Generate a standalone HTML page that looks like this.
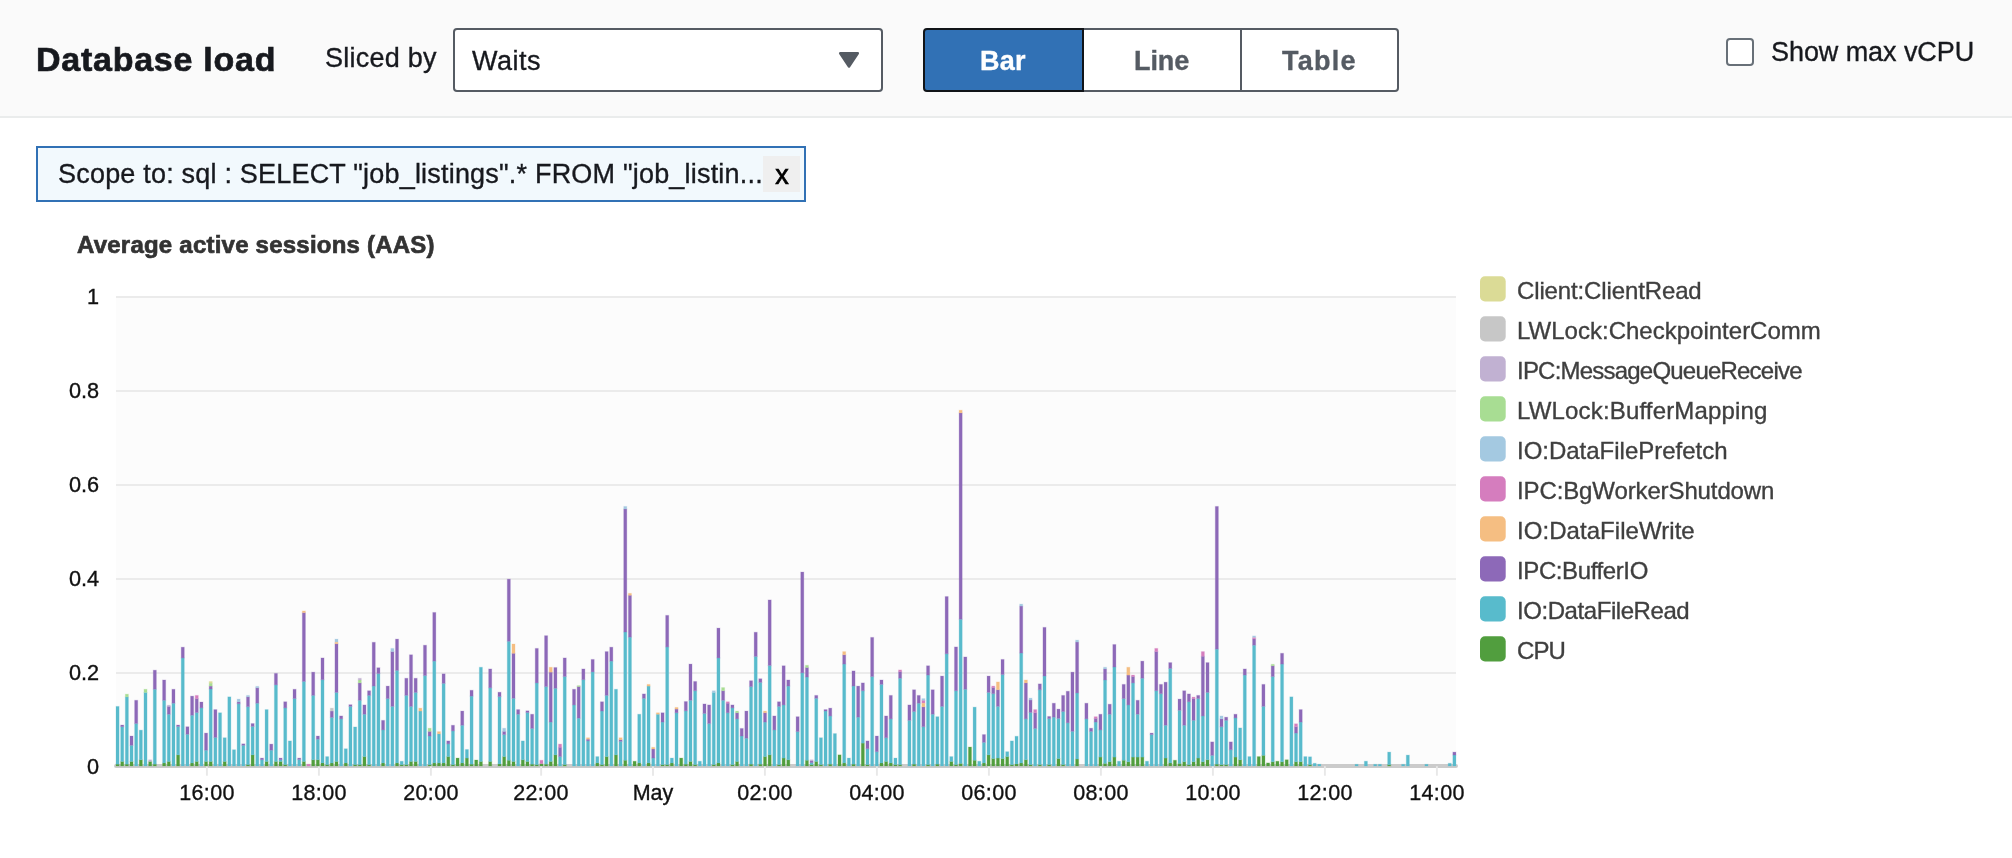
<!DOCTYPE html>
<html><head><meta charset="utf-8"><title>Database load</title>
<style>
html,body{margin:0;padding:0;background:#fff;}
body{width:2012px;height:858px;position:relative;overflow:hidden;font-family:"Liberation Sans",sans-serif;}
.hdr{position:absolute;left:0;top:0;width:2012px;height:116px;background:#fafafa;border-bottom:2px solid #eaecec;}
.t{position:absolute;height:40px;line-height:40px;white-space:pre;z-index:5;will-change:transform;-webkit-text-stroke:0.35px currentColor;}
.select{position:absolute;left:453px;top:28px;width:426px;height:60px;border:2px solid #555b63;border-radius:4px;background:#fff;}
.seg{position:absolute;top:28px;height:60px;border:2px solid #555b63;background:#fff;}
.seg.on{left:923px;width:157px;background:#3171b5;border-color:#111418;border-radius:4px 0 0 4px;z-index:2;}
.seg.s2{left:1082px;width:156px;}
.seg.s3{left:1240px;width:155px;border-radius:0 4px 4px 0;}
.cb{position:absolute;left:1726px;top:38px;width:24px;height:24px;border:2px solid #687078;border-radius:4px;background:#fff;}
.tag{position:absolute;left:36px;top:146px;width:766px;height:52px;border:2px solid #3171b5;background:#f2f9fd;}
.xb{position:absolute;left:763px;top:156px;width:37px;height:36px;background:#efefef;}
svg{position:absolute;left:0;top:0;}
</style></head><body>
<div class="hdr"></div>
<div class="select"></div>
<div class="seg on"></div><div class="seg s2"></div><div class="seg s3"></div>
<div class="cb"></div>
<div class="tag"></div><div class="xb"></div>
<svg width="2012" height="858" viewBox="0 0 2012 858">
<path d="M840.2 53.2 L857.8 53.2 L849 66.5 Z" fill="#555b63" stroke="#555b63" stroke-width="2.5" stroke-linejoin="round"/>
<rect x="116.0" y="297.0" width="1340.0" height="469.0" fill="#fcfcfc"/>
<line x1="116.0" x2="1456.0" y1="297.0" y2="297.0" stroke="#ebebeb" stroke-width="2"/>
<line x1="116.0" x2="1456.0" y1="391.0" y2="391.0" stroke="#ebebeb" stroke-width="2"/>
<line x1="116.0" x2="1456.0" y1="485.0" y2="485.0" stroke="#ebebeb" stroke-width="2"/>
<line x1="116.0" x2="1456.0" y1="579.0" y2="579.0" stroke="#ebebeb" stroke-width="2"/>
<line x1="116.0" x2="1456.0" y1="673.0" y2="673.0" stroke="#ebebeb" stroke-width="2"/>
<line x1="116" x2="1456" y1="766.1" y2="766.1" stroke="#cbcbcb" stroke-width="4" stroke-linecap="round"/>
<line x1="206.90" x2="206.90" y1="766.2" y2="775.7" stroke="#e8e8e8" stroke-width="1.9"/>
<line x1="318.90" x2="318.90" y1="766.2" y2="775.7" stroke="#e8e8e8" stroke-width="1.9"/>
<line x1="430.90" x2="430.90" y1="766.2" y2="775.7" stroke="#e8e8e8" stroke-width="1.9"/>
<line x1="541.15" x2="541.15" y1="766.2" y2="775.7" stroke="#e8e8e8" stroke-width="1.9"/>
<line x1="653.00" x2="653.00" y1="766.2" y2="775.7" stroke="#e8e8e8" stroke-width="1.9"/>
<line x1="764.90" x2="764.90" y1="766.2" y2="775.7" stroke="#e8e8e8" stroke-width="1.9"/>
<line x1="876.90" x2="876.90" y1="766.2" y2="775.7" stroke="#e8e8e8" stroke-width="1.9"/>
<line x1="988.90" x2="988.90" y1="766.2" y2="775.7" stroke="#e8e8e8" stroke-width="1.9"/>
<line x1="1100.90" x2="1100.90" y1="766.2" y2="775.7" stroke="#e8e8e8" stroke-width="1.9"/>
<line x1="1212.90" x2="1212.90" y1="766.2" y2="775.7" stroke="#e8e8e8" stroke-width="1.9"/>
<line x1="1324.90" x2="1324.90" y1="766.2" y2="775.7" stroke="#e8e8e8" stroke-width="1.9"/>
<line x1="1436.90" x2="1436.90" y1="766.2" y2="775.7" stroke="#e8e8e8" stroke-width="1.9"/>
<g fill="#519e3e" stroke="#519e3e" stroke-width="1.1" stroke-opacity="0.2"><rect x="116.00" y="764.16" width="3.1" height="1.84"/><rect x="120.66" y="761.47" width="3.1" height="4.53"/><rect x="125.32" y="764.16" width="3.1" height="1.84"/><rect x="129.97" y="761.47" width="3.1" height="4.53"/><rect x="139.29" y="759.76" width="3.1" height="6.24"/><rect x="148.61" y="761.47" width="3.1" height="4.53"/><rect x="153.26" y="764.16" width="3.1" height="1.84"/><rect x="162.58" y="762.94" width="3.1" height="3.06"/><rect x="167.24" y="761.47" width="3.1" height="4.53"/><rect x="176.55" y="754.86" width="3.1" height="11.14"/><rect x="190.53" y="762.94" width="3.1" height="3.06"/><rect x="195.19" y="761.47" width="3.1" height="4.53"/><rect x="204.50" y="761.47" width="3.1" height="4.53"/><rect x="209.16" y="761.47" width="3.1" height="4.53"/><rect x="223.13" y="761.47" width="3.1" height="4.53"/><rect x="246.42" y="764.65" width="3.1" height="1.35"/><rect x="251.08" y="754.86" width="3.1" height="11.14"/><rect x="265.06" y="761.47" width="3.1" height="4.53"/><rect x="274.37" y="761.47" width="3.1" height="4.53"/><rect x="279.03" y="761.47" width="3.1" height="4.53"/><rect x="283.69" y="764.65" width="3.1" height="1.35"/><rect x="302.32" y="761.47" width="3.1" height="4.53"/><rect x="311.64" y="759.76" width="3.1" height="6.24"/><rect x="316.29" y="759.76" width="3.1" height="6.24"/><rect x="320.95" y="762.94" width="3.1" height="3.06"/><rect x="325.61" y="764.65" width="3.1" height="1.35"/><rect x="330.27" y="762.94" width="3.1" height="3.06"/><rect x="334.93" y="761.47" width="3.1" height="4.53"/><rect x="344.24" y="762.94" width="3.1" height="3.06"/><rect x="353.56" y="764.65" width="3.1" height="1.35"/><rect x="358.22" y="764.65" width="3.1" height="1.35"/><rect x="362.87" y="756.58" width="3.1" height="9.42"/><rect x="367.53" y="764.65" width="3.1" height="1.35"/><rect x="381.51" y="762.94" width="3.1" height="3.06"/><rect x="395.48" y="762.94" width="3.1" height="3.06"/><rect x="400.14" y="764.65" width="3.1" height="1.35"/><rect x="404.80" y="764.65" width="3.1" height="1.35"/><rect x="409.45" y="761.47" width="3.1" height="4.53"/><rect x="414.11" y="761.47" width="3.1" height="4.53"/><rect x="428.09" y="764.65" width="3.1" height="1.35"/><rect x="432.74" y="762.94" width="3.1" height="3.06"/><rect x="437.40" y="762.94" width="3.1" height="3.06"/><rect x="442.06" y="762.94" width="3.1" height="3.06"/><rect x="446.72" y="756.58" width="3.1" height="9.42"/><rect x="451.38" y="764.65" width="3.1" height="1.35"/><rect x="456.03" y="758.05" width="3.1" height="7.95"/><rect x="460.69" y="762.94" width="3.1" height="3.06"/><rect x="465.35" y="758.05" width="3.1" height="7.95"/><rect x="470.01" y="764.16" width="3.1" height="1.84"/><rect x="474.67" y="760.00" width="3.1" height="6.00"/><rect x="479.32" y="761.47" width="3.1" height="4.53"/><rect x="488.64" y="761.47" width="3.1" height="4.53"/><rect x="497.96" y="763.92" width="3.1" height="2.08"/><rect x="502.61" y="756.58" width="3.1" height="9.42"/><rect x="507.27" y="760.25" width="3.1" height="5.75"/><rect x="511.93" y="761.47" width="3.1" height="4.53"/><rect x="521.25" y="759.76" width="3.1" height="6.24"/><rect x="525.90" y="761.47" width="3.1" height="4.53"/><rect x="530.56" y="764.16" width="3.1" height="1.84"/><rect x="535.22" y="764.65" width="3.1" height="1.35"/><rect x="539.88" y="763.67" width="3.1" height="2.33"/><rect x="544.54" y="764.16" width="3.1" height="1.84"/><rect x="549.19" y="761.47" width="3.1" height="4.53"/><rect x="553.85" y="754.86" width="3.1" height="11.14"/><rect x="563.17" y="764.65" width="3.1" height="1.35"/><rect x="595.77" y="762.94" width="3.1" height="3.06"/><rect x="600.43" y="764.65" width="3.1" height="1.35"/><rect x="605.09" y="756.58" width="3.1" height="9.42"/><rect x="614.41" y="754.86" width="3.1" height="11.14"/><rect x="623.72" y="760.25" width="3.1" height="5.75"/><rect x="633.04" y="761.23" width="3.1" height="4.77"/><rect x="637.70" y="762.94" width="3.1" height="3.06"/><rect x="647.01" y="762.94" width="3.1" height="3.06"/><rect x="660.99" y="764.65" width="3.1" height="1.35"/><rect x="665.64" y="764.65" width="3.1" height="1.35"/><rect x="670.30" y="762.94" width="3.1" height="3.06"/><rect x="679.62" y="758.05" width="3.1" height="7.95"/><rect x="684.28" y="764.16" width="3.1" height="1.84"/><rect x="688.93" y="761.47" width="3.1" height="4.53"/><rect x="693.59" y="764.65" width="3.1" height="1.35"/><rect x="712.22" y="764.65" width="3.1" height="1.35"/><rect x="716.88" y="762.94" width="3.1" height="3.06"/><rect x="730.86" y="764.65" width="3.1" height="1.35"/><rect x="735.51" y="761.47" width="3.1" height="4.53"/><rect x="749.49" y="764.16" width="3.1" height="1.84"/><rect x="758.80" y="764.16" width="3.1" height="1.84"/><rect x="763.46" y="756.58" width="3.1" height="9.42"/><rect x="768.12" y="754.86" width="3.1" height="11.14"/><rect x="777.44" y="764.65" width="3.1" height="1.35"/><rect x="782.09" y="758.05" width="3.1" height="7.95"/><rect x="786.75" y="759.76" width="3.1" height="6.24"/><rect x="805.38" y="760.25" width="3.1" height="5.75"/><rect x="810.04" y="764.65" width="3.1" height="1.35"/><rect x="814.70" y="761.47" width="3.1" height="4.53"/><rect x="819.36" y="764.65" width="3.1" height="1.35"/><rect x="828.67" y="764.16" width="3.1" height="1.84"/><rect x="837.99" y="754.86" width="3.1" height="11.14"/><rect x="842.65" y="762.94" width="3.1" height="3.06"/><rect x="851.96" y="764.16" width="3.1" height="1.84"/><rect x="861.28" y="743.12" width="3.1" height="22.88"/><rect x="865.94" y="764.65" width="3.1" height="1.35"/><rect x="879.91" y="762.94" width="3.1" height="3.06"/><rect x="884.57" y="761.47" width="3.1" height="4.53"/><rect x="889.23" y="762.94" width="3.1" height="3.06"/><rect x="893.89" y="764.65" width="3.1" height="1.35"/><rect x="898.54" y="764.65" width="3.1" height="1.35"/><rect x="912.52" y="764.16" width="3.1" height="1.84"/><rect x="926.49" y="764.65" width="3.1" height="1.35"/><rect x="935.81" y="764.16" width="3.1" height="1.84"/><rect x="949.78" y="761.47" width="3.1" height="4.53"/><rect x="954.44" y="764.65" width="3.1" height="1.35"/><rect x="959.10" y="763.43" width="3.1" height="2.57"/><rect x="968.41" y="747.03" width="3.1" height="18.97"/><rect x="973.07" y="760.25" width="3.1" height="5.75"/><rect x="982.39" y="762.94" width="3.1" height="3.06"/><rect x="987.05" y="754.86" width="3.1" height="11.14"/><rect x="991.70" y="758.53" width="3.1" height="7.47"/><rect x="996.36" y="758.05" width="3.1" height="7.95"/><rect x="1001.02" y="758.53" width="3.1" height="7.47"/><rect x="1005.68" y="756.58" width="3.1" height="9.42"/><rect x="1010.34" y="764.65" width="3.1" height="1.35"/><rect x="1014.99" y="763.92" width="3.1" height="2.08"/><rect x="1019.65" y="762.94" width="3.1" height="3.06"/><rect x="1024.31" y="759.76" width="3.1" height="6.24"/><rect x="1028.97" y="764.65" width="3.1" height="1.35"/><rect x="1038.28" y="764.65" width="3.1" height="1.35"/><rect x="1047.60" y="764.65" width="3.1" height="1.35"/><rect x="1056.92" y="758.53" width="3.1" height="7.47"/><rect x="1061.57" y="764.65" width="3.1" height="1.35"/><rect x="1075.55" y="759.02" width="3.1" height="6.98"/><rect x="1098.84" y="757.07" width="3.1" height="8.93"/><rect x="1103.50" y="763.43" width="3.1" height="2.57"/><rect x="1108.15" y="761.72" width="3.1" height="4.28"/><rect x="1112.81" y="757.07" width="3.1" height="8.93"/><rect x="1122.13" y="760.25" width="3.1" height="5.75"/><rect x="1126.79" y="761.72" width="3.1" height="4.28"/><rect x="1131.44" y="757.07" width="3.1" height="8.93"/><rect x="1136.10" y="757.07" width="3.1" height="8.93"/><rect x="1140.76" y="757.07" width="3.1" height="8.93"/><rect x="1164.05" y="758.05" width="3.1" height="7.95"/><rect x="1168.71" y="762.94" width="3.1" height="3.06"/><rect x="1173.37" y="760.25" width="3.1" height="5.75"/><rect x="1178.02" y="763.43" width="3.1" height="2.57"/><rect x="1182.68" y="761.72" width="3.1" height="4.28"/><rect x="1187.34" y="764.65" width="3.1" height="1.35"/><rect x="1192.00" y="761.72" width="3.1" height="4.28"/><rect x="1196.66" y="758.05" width="3.1" height="7.95"/><rect x="1201.31" y="761.72" width="3.1" height="4.28"/><rect x="1205.97" y="759.76" width="3.1" height="6.24"/><rect x="1215.29" y="764.16" width="3.1" height="1.84"/><rect x="1219.95" y="764.65" width="3.1" height="1.35"/><rect x="1224.60" y="764.65" width="3.1" height="1.35"/><rect x="1233.92" y="757.07" width="3.1" height="8.93"/><rect x="1238.58" y="759.76" width="3.1" height="6.24"/><rect x="1257.21" y="756.58" width="3.1" height="9.42"/><rect x="1261.87" y="755.35" width="3.1" height="10.65"/><rect x="1266.53" y="762.94" width="3.1" height="3.06"/><rect x="1271.18" y="761.72" width="3.1" height="4.28"/><rect x="1275.84" y="761.23" width="3.1" height="4.77"/><rect x="1280.50" y="761.72" width="3.1" height="4.28"/><rect x="1285.16" y="759.76" width="3.1" height="6.24"/><rect x="1294.47" y="761.72" width="3.1" height="4.28"/><rect x="1299.13" y="761.72" width="3.1" height="4.28"/><rect x="1308.45" y="764.70" width="3.1" height="1.30"/><rect x="1387.63" y="764.70" width="3.1" height="1.30"/></g>
<g fill="#58bbcc" stroke="#58bbcc" stroke-width="1.1" stroke-opacity="0.2"><rect x="116.00" y="706.40" width="3.1" height="57.76"/><rect x="120.66" y="726.72" width="3.1" height="34.75"/><rect x="125.32" y="696.86" width="3.1" height="67.30"/><rect x="129.97" y="745.32" width="3.1" height="16.15"/><rect x="134.63" y="723.53" width="3.1" height="42.47"/><rect x="139.29" y="730.14" width="3.1" height="29.62"/><rect x="143.95" y="692.45" width="3.1" height="73.55"/><rect x="153.26" y="689.27" width="3.1" height="74.89"/><rect x="162.58" y="700.28" width="3.1" height="62.66"/><rect x="167.24" y="714.23" width="3.1" height="47.24"/><rect x="171.90" y="703.22" width="3.1" height="62.78"/><rect x="176.55" y="726.47" width="3.1" height="28.39"/><rect x="181.21" y="657.94" width="3.1" height="108.06"/><rect x="185.87" y="734.30" width="3.1" height="31.70"/><rect x="190.53" y="715.21" width="3.1" height="47.73"/><rect x="195.19" y="712.52" width="3.1" height="48.95"/><rect x="199.84" y="707.87" width="3.1" height="58.13"/><rect x="204.50" y="750.21" width="3.1" height="11.26"/><rect x="209.16" y="689.02" width="3.1" height="72.45"/><rect x="213.82" y="737.49" width="3.1" height="28.51"/><rect x="218.48" y="712.77" width="3.1" height="53.23"/><rect x="223.13" y="737.73" width="3.1" height="23.74"/><rect x="227.79" y="696.86" width="3.1" height="69.14"/><rect x="232.45" y="749.72" width="3.1" height="16.28"/><rect x="237.11" y="703.71" width="3.1" height="62.29"/><rect x="241.77" y="745.32" width="3.1" height="20.68"/><rect x="246.42" y="706.65" width="3.1" height="58.00"/><rect x="251.08" y="726.47" width="3.1" height="28.39"/><rect x="255.74" y="703.22" width="3.1" height="62.78"/><rect x="260.40" y="759.76" width="3.1" height="6.24"/><rect x="265.06" y="709.58" width="3.1" height="51.89"/><rect x="269.71" y="750.21" width="3.1" height="15.79"/><rect x="274.37" y="684.86" width="3.1" height="76.61"/><rect x="279.03" y="759.76" width="3.1" height="1.71"/><rect x="283.69" y="707.87" width="3.1" height="56.78"/><rect x="288.35" y="740.91" width="3.1" height="25.09"/><rect x="293.00" y="698.57" width="3.1" height="67.43"/><rect x="297.66" y="759.51" width="3.1" height="6.49"/><rect x="302.32" y="681.44" width="3.1" height="80.03"/><rect x="311.64" y="695.39" width="3.1" height="64.37"/><rect x="316.29" y="739.20" width="3.1" height="20.56"/><rect x="320.95" y="679.72" width="3.1" height="83.22"/><rect x="325.61" y="756.58" width="3.1" height="8.07"/><rect x="330.27" y="717.42" width="3.1" height="45.52"/><rect x="334.93" y="692.45" width="3.1" height="69.02"/><rect x="339.58" y="718.88" width="3.1" height="47.12"/><rect x="344.24" y="748.74" width="3.1" height="14.20"/><rect x="348.90" y="706.40" width="3.1" height="59.60"/><rect x="353.56" y="726.96" width="3.1" height="37.69"/><rect x="358.22" y="700.28" width="3.1" height="64.37"/><rect x="362.87" y="714.23" width="3.1" height="42.35"/><rect x="367.53" y="695.39" width="3.1" height="69.26"/><rect x="372.19" y="686.09" width="3.1" height="79.91"/><rect x="376.85" y="673.60" width="3.1" height="92.40"/><rect x="381.51" y="729.90" width="3.1" height="33.04"/><rect x="386.16" y="698.57" width="3.1" height="67.43"/><rect x="390.82" y="706.40" width="3.1" height="59.60"/><rect x="395.48" y="670.42" width="3.1" height="92.52"/><rect x="400.14" y="761.23" width="3.1" height="3.42"/><rect x="404.80" y="695.39" width="3.1" height="69.26"/><rect x="409.45" y="706.40" width="3.1" height="55.07"/><rect x="414.11" y="692.45" width="3.1" height="69.02"/><rect x="418.77" y="711.05" width="3.1" height="54.95"/><rect x="423.43" y="675.56" width="3.1" height="90.44"/><rect x="428.09" y="736.02" width="3.1" height="28.63"/><rect x="432.74" y="661.12" width="3.1" height="101.82"/><rect x="437.40" y="733.81" width="3.1" height="29.13"/><rect x="442.06" y="683.39" width="3.1" height="79.55"/><rect x="446.72" y="743.85" width="3.1" height="12.73"/><rect x="451.38" y="730.88" width="3.1" height="33.77"/><rect x="460.69" y="725.25" width="3.1" height="37.69"/><rect x="465.35" y="749.48" width="3.1" height="8.57"/><rect x="470.01" y="696.12" width="3.1" height="68.04"/><rect x="479.32" y="667.24" width="3.1" height="94.23"/><rect x="488.64" y="687.80" width="3.1" height="73.67"/><rect x="497.96" y="696.61" width="3.1" height="67.31"/><rect x="502.61" y="734.55" width="3.1" height="22.03"/><rect x="507.27" y="641.30" width="3.1" height="118.95"/><rect x="511.93" y="698.32" width="3.1" height="63.15"/><rect x="516.59" y="714.23" width="3.1" height="51.77"/><rect x="521.25" y="740.91" width="3.1" height="18.85"/><rect x="525.90" y="712.52" width="3.1" height="48.95"/><rect x="530.56" y="728.43" width="3.1" height="35.73"/><rect x="535.22" y="682.91" width="3.1" height="81.74"/><rect x="544.54" y="686.58" width="3.1" height="77.58"/><rect x="549.19" y="722.07" width="3.1" height="39.40"/><rect x="553.85" y="688.29" width="3.1" height="66.57"/><rect x="558.51" y="756.58" width="3.1" height="9.42"/><rect x="563.17" y="676.54" width="3.1" height="88.11"/><rect x="572.48" y="704.93" width="3.1" height="61.07"/><rect x="577.14" y="718.15" width="3.1" height="47.85"/><rect x="581.80" y="679.72" width="3.1" height="86.28"/><rect x="586.46" y="740.91" width="3.1" height="25.09"/><rect x="591.12" y="671.89" width="3.1" height="94.11"/><rect x="595.77" y="756.58" width="3.1" height="6.36"/><rect x="600.43" y="711.05" width="3.1" height="53.60"/><rect x="605.09" y="695.39" width="3.1" height="61.19"/><rect x="609.75" y="661.12" width="3.1" height="104.88"/><rect x="614.41" y="689.27" width="3.1" height="65.59"/><rect x="619.06" y="741.40" width="3.1" height="24.60"/><rect x="623.72" y="632.00" width="3.1" height="128.25"/><rect x="628.38" y="637.14" width="3.1" height="128.86"/><rect x="637.70" y="714.23" width="3.1" height="48.71"/><rect x="642.35" y="698.32" width="3.1" height="67.68"/><rect x="647.01" y="686.09" width="3.1" height="76.85"/><rect x="651.67" y="758.05" width="3.1" height="7.95"/><rect x="656.33" y="714.23" width="3.1" height="51.77"/><rect x="660.99" y="722.07" width="3.1" height="42.58"/><rect x="665.64" y="646.93" width="3.1" height="117.72"/><rect x="670.30" y="758.05" width="3.1" height="4.89"/><rect x="674.96" y="712.77" width="3.1" height="53.23"/><rect x="684.28" y="710.81" width="3.1" height="53.35"/><rect x="688.93" y="700.28" width="3.1" height="61.19"/><rect x="693.59" y="690.74" width="3.1" height="73.91"/><rect x="698.25" y="761.23" width="3.1" height="4.77"/><rect x="702.91" y="713.50" width="3.1" height="52.50"/><rect x="707.57" y="723.53" width="3.1" height="42.47"/><rect x="712.22" y="692.45" width="3.1" height="72.20"/><rect x="716.88" y="657.94" width="3.1" height="105.00"/><rect x="721.54" y="700.28" width="3.1" height="65.72"/><rect x="726.20" y="712.77" width="3.1" height="53.23"/><rect x="730.86" y="707.87" width="3.1" height="56.78"/><rect x="735.51" y="718.88" width="3.1" height="42.59"/><rect x="740.17" y="736.02" width="3.1" height="29.98"/><rect x="744.83" y="738.22" width="3.1" height="27.78"/><rect x="749.49" y="686.58" width="3.1" height="77.58"/><rect x="754.15" y="656.47" width="3.1" height="109.53"/><rect x="758.80" y="682.42" width="3.1" height="81.74"/><rect x="763.46" y="722.07" width="3.1" height="34.51"/><rect x="768.12" y="665.53" width="3.1" height="89.33"/><rect x="772.78" y="729.90" width="3.1" height="36.10"/><rect x="777.44" y="706.40" width="3.1" height="58.25"/><rect x="782.09" y="704.93" width="3.1" height="53.12"/><rect x="786.75" y="686.09" width="3.1" height="73.67"/><rect x="796.07" y="731.61" width="3.1" height="34.39"/><rect x="800.73" y="672.87" width="3.1" height="93.13"/><rect x="805.38" y="677.03" width="3.1" height="83.22"/><rect x="810.04" y="762.70" width="3.1" height="1.95"/><rect x="814.70" y="698.32" width="3.1" height="63.15"/><rect x="819.36" y="737.73" width="3.1" height="26.92"/><rect x="824.02" y="711.05" width="3.1" height="54.95"/><rect x="828.67" y="715.95" width="3.1" height="48.21"/><rect x="833.33" y="733.57" width="3.1" height="32.43"/><rect x="842.65" y="664.06" width="3.1" height="98.88"/><rect x="847.31" y="758.05" width="3.1" height="7.95"/><rect x="851.96" y="686.09" width="3.1" height="78.07"/><rect x="856.62" y="717.17" width="3.1" height="48.83"/><rect x="861.28" y="690.74" width="3.1" height="52.38"/><rect x="865.94" y="748.74" width="3.1" height="15.91"/><rect x="870.60" y="676.54" width="3.1" height="89.46"/><rect x="875.25" y="751.68" width="3.1" height="14.32"/><rect x="879.91" y="684.37" width="3.1" height="78.57"/><rect x="884.57" y="737.73" width="3.1" height="23.74"/><rect x="889.23" y="718.88" width="3.1" height="44.06"/><rect x="893.89" y="758.05" width="3.1" height="6.60"/><rect x="898.54" y="678.25" width="3.1" height="86.40"/><rect x="907.86" y="720.35" width="3.1" height="45.65"/><rect x="912.52" y="711.54" width="3.1" height="52.62"/><rect x="917.18" y="703.22" width="3.1" height="62.78"/><rect x="921.83" y="726.72" width="3.1" height="39.28"/><rect x="926.49" y="675.07" width="3.1" height="89.58"/><rect x="931.15" y="714.23" width="3.1" height="51.77"/><rect x="935.81" y="716.68" width="3.1" height="47.48"/><rect x="940.47" y="706.40" width="3.1" height="59.60"/><rect x="945.12" y="653.78" width="3.1" height="112.22"/><rect x="949.78" y="756.58" width="3.1" height="4.89"/><rect x="954.44" y="690.74" width="3.1" height="73.91"/><rect x="959.10" y="619.27" width="3.1" height="144.16"/><rect x="963.76" y="689.27" width="3.1" height="76.73"/><rect x="973.07" y="707.14" width="3.1" height="53.11"/><rect x="977.73" y="761.23" width="3.1" height="4.77"/><rect x="982.39" y="742.38" width="3.1" height="20.56"/><rect x="987.05" y="692.45" width="3.1" height="62.41"/><rect x="991.70" y="693.67" width="3.1" height="64.86"/><rect x="996.36" y="706.40" width="3.1" height="51.65"/><rect x="1001.02" y="674.58" width="3.1" height="83.95"/><rect x="1005.68" y="751.68" width="3.1" height="4.90"/><rect x="1010.34" y="740.91" width="3.1" height="23.74"/><rect x="1014.99" y="736.26" width="3.1" height="27.66"/><rect x="1019.65" y="653.05" width="3.1" height="109.89"/><rect x="1024.31" y="718.88" width="3.1" height="40.88"/><rect x="1028.97" y="712.52" width="3.1" height="52.13"/><rect x="1033.63" y="728.43" width="3.1" height="37.57"/><rect x="1038.28" y="689.76" width="3.1" height="74.89"/><rect x="1042.94" y="676.05" width="3.1" height="89.95"/><rect x="1047.60" y="718.64" width="3.1" height="46.01"/><rect x="1052.26" y="717.17" width="3.1" height="48.83"/><rect x="1056.92" y="718.39" width="3.1" height="40.14"/><rect x="1061.57" y="711.54" width="3.1" height="53.11"/><rect x="1066.23" y="722.80" width="3.1" height="43.20"/><rect x="1070.89" y="731.37" width="3.1" height="34.63"/><rect x="1075.55" y="692.94" width="3.1" height="66.08"/><rect x="1084.86" y="718.88" width="3.1" height="47.12"/><rect x="1089.52" y="731.37" width="3.1" height="34.63"/><rect x="1094.18" y="722.07" width="3.1" height="43.93"/><rect x="1098.84" y="729.90" width="3.1" height="27.17"/><rect x="1103.50" y="679.97" width="3.1" height="83.46"/><rect x="1108.15" y="714.23" width="3.1" height="47.49"/><rect x="1112.81" y="667.00" width="3.1" height="90.07"/><rect x="1117.47" y="761.23" width="3.1" height="4.77"/><rect x="1122.13" y="698.57" width="3.1" height="61.68"/><rect x="1126.79" y="704.93" width="3.1" height="56.79"/><rect x="1131.44" y="682.91" width="3.1" height="74.16"/><rect x="1136.10" y="714.23" width="3.1" height="42.84"/><rect x="1140.76" y="678.25" width="3.1" height="78.82"/><rect x="1145.42" y="761.23" width="3.1" height="4.77"/><rect x="1150.08" y="734.55" width="3.1" height="31.45"/><rect x="1154.73" y="690.74" width="3.1" height="75.26"/><rect x="1159.39" y="693.67" width="3.1" height="72.33"/><rect x="1164.05" y="725.25" width="3.1" height="32.80"/><rect x="1168.71" y="668.46" width="3.1" height="94.48"/><rect x="1178.02" y="710.32" width="3.1" height="53.11"/><rect x="1182.68" y="725.25" width="3.1" height="36.47"/><rect x="1187.34" y="701.75" width="3.1" height="62.90"/><rect x="1192.00" y="720.35" width="3.1" height="41.37"/><rect x="1196.66" y="698.57" width="3.1" height="59.48"/><rect x="1201.31" y="715.95" width="3.1" height="45.77"/><rect x="1205.97" y="692.45" width="3.1" height="67.31"/><rect x="1210.63" y="755.35" width="3.1" height="10.65"/><rect x="1215.29" y="649.13" width="3.1" height="115.03"/><rect x="1219.95" y="726.72" width="3.1" height="37.93"/><rect x="1224.60" y="720.35" width="3.1" height="44.30"/><rect x="1229.26" y="749.72" width="3.1" height="16.28"/><rect x="1233.92" y="717.91" width="3.1" height="39.16"/><rect x="1238.58" y="727.94" width="3.1" height="31.82"/><rect x="1243.24" y="675.07" width="3.1" height="90.93"/><rect x="1247.89" y="756.58" width="3.1" height="9.42"/><rect x="1252.55" y="645.21" width="3.1" height="120.79"/><rect x="1261.87" y="706.40" width="3.1" height="48.95"/><rect x="1271.18" y="676.54" width="3.1" height="85.18"/><rect x="1280.50" y="664.06" width="3.1" height="97.66"/><rect x="1289.82" y="696.86" width="3.1" height="69.14"/><rect x="1294.47" y="733.08" width="3.1" height="28.64"/><rect x="1299.13" y="722.07" width="3.1" height="39.65"/><rect x="1303.79" y="756.58" width="3.1" height="9.42"/><rect x="1308.45" y="756.80" width="3.1" height="7.90"/><rect x="1313.11" y="763.30" width="3.1" height="2.70"/><rect x="1317.76" y="764.20" width="3.1" height="1.80"/><rect x="1355.03" y="764.30" width="3.1" height="1.70"/><rect x="1364.34" y="761.20" width="3.1" height="4.80"/><rect x="1373.66" y="764.30" width="3.1" height="1.70"/><rect x="1378.32" y="764.30" width="3.1" height="1.70"/><rect x="1387.63" y="752.10" width="3.1" height="12.60"/><rect x="1401.61" y="764.30" width="3.1" height="1.70"/><rect x="1406.27" y="755.10" width="3.1" height="10.90"/><rect x="1424.90" y="764.30" width="3.1" height="1.70"/><rect x="1448.19" y="763.30" width="3.1" height="2.70"/><rect x="1452.85" y="755.00" width="3.1" height="11.00"/></g>
<g fill="#8d69b8" stroke="#8d69b8" stroke-width="1.1" stroke-opacity="0.2"><rect x="120.66" y="725.00" width="3.1" height="1.72"/><rect x="129.97" y="736.02" width="3.1" height="9.30"/><rect x="134.63" y="700.28" width="3.1" height="23.25"/><rect x="153.26" y="670.18" width="3.1" height="19.09"/><rect x="162.58" y="679.97" width="3.1" height="20.31"/><rect x="167.24" y="706.40" width="3.1" height="7.83"/><rect x="171.90" y="689.27" width="3.1" height="13.95"/><rect x="176.55" y="725.00" width="3.1" height="1.47"/><rect x="181.21" y="647.17" width="3.1" height="10.77"/><rect x="185.87" y="726.72" width="3.1" height="7.58"/><rect x="190.53" y="696.12" width="3.1" height="19.09"/><rect x="195.19" y="698.57" width="3.1" height="13.95"/><rect x="199.84" y="702.00" width="3.1" height="5.87"/><rect x="204.50" y="733.08" width="3.1" height="17.13"/><rect x="209.16" y="686.09" width="3.1" height="2.93"/><rect x="213.82" y="709.58" width="3.1" height="27.91"/><rect x="237.11" y="702.00" width="3.1" height="1.71"/><rect x="241.77" y="743.85" width="3.1" height="1.47"/><rect x="246.42" y="696.86" width="3.1" height="9.79"/><rect x="251.08" y="723.53" width="3.1" height="2.94"/><rect x="255.74" y="687.80" width="3.1" height="15.42"/><rect x="260.40" y="758.05" width="3.1" height="1.71"/><rect x="269.71" y="744.09" width="3.1" height="6.12"/><rect x="274.37" y="673.36" width="3.1" height="11.50"/><rect x="279.03" y="758.05" width="3.1" height="1.71"/><rect x="283.69" y="701.75" width="3.1" height="6.12"/><rect x="293.00" y="689.27" width="3.1" height="9.30"/><rect x="297.66" y="758.05" width="3.1" height="1.46"/><rect x="302.32" y="612.66" width="3.1" height="68.78"/><rect x="311.64" y="672.14" width="3.1" height="23.25"/><rect x="316.29" y="736.02" width="3.1" height="3.18"/><rect x="320.95" y="657.94" width="3.1" height="21.78"/><rect x="330.27" y="711.05" width="3.1" height="6.37"/><rect x="334.93" y="643.74" width="3.1" height="48.71"/><rect x="339.58" y="715.95" width="3.1" height="2.93"/><rect x="348.90" y="704.69" width="3.1" height="1.71"/><rect x="358.22" y="682.91" width="3.1" height="17.37"/><rect x="362.87" y="704.93" width="3.1" height="9.30"/><rect x="367.53" y="690.74" width="3.1" height="4.65"/><rect x="372.19" y="642.28" width="3.1" height="43.81"/><rect x="376.85" y="667.73" width="3.1" height="5.87"/><rect x="381.51" y="720.35" width="3.1" height="9.55"/><rect x="386.16" y="686.09" width="3.1" height="12.48"/><rect x="390.82" y="651.58" width="3.1" height="54.82"/><rect x="395.48" y="639.09" width="3.1" height="31.33"/><rect x="404.80" y="678.25" width="3.1" height="17.14"/><rect x="409.45" y="654.76" width="3.1" height="51.64"/><rect x="414.11" y="678.25" width="3.1" height="14.20"/><rect x="423.43" y="645.21" width="3.1" height="30.35"/><rect x="428.09" y="731.37" width="3.1" height="4.65"/><rect x="432.74" y="612.42" width="3.1" height="48.70"/><rect x="442.06" y="673.85" width="3.1" height="9.54"/><rect x="446.72" y="740.91" width="3.1" height="2.94"/><rect x="451.38" y="725.25" width="3.1" height="5.63"/><rect x="460.69" y="711.05" width="3.1" height="14.20"/><rect x="470.01" y="690.25" width="3.1" height="5.87"/><rect x="488.64" y="668.95" width="3.1" height="18.85"/><rect x="497.96" y="692.21" width="3.1" height="4.40"/><rect x="502.61" y="731.37" width="3.1" height="3.18"/><rect x="507.27" y="579.13" width="3.1" height="62.17"/><rect x="511.93" y="653.29" width="3.1" height="45.03"/><rect x="516.59" y="709.58" width="3.1" height="4.65"/><rect x="525.90" y="710.81" width="3.1" height="1.71"/><rect x="530.56" y="714.23" width="3.1" height="14.20"/><rect x="535.22" y="648.39" width="3.1" height="34.52"/><rect x="544.54" y="635.67" width="3.1" height="50.91"/><rect x="549.19" y="672.14" width="3.1" height="49.93"/><rect x="553.85" y="667.49" width="3.1" height="20.80"/><rect x="558.51" y="747.28" width="3.1" height="9.30"/><rect x="563.17" y="657.94" width="3.1" height="18.60"/><rect x="572.48" y="689.27" width="3.1" height="15.66"/><rect x="577.14" y="686.58" width="3.1" height="31.57"/><rect x="581.80" y="668.95" width="3.1" height="10.77"/><rect x="586.46" y="739.20" width="3.1" height="1.71"/><rect x="591.12" y="659.41" width="3.1" height="12.48"/><rect x="600.43" y="701.75" width="3.1" height="9.30"/><rect x="605.09" y="651.58" width="3.1" height="43.81"/><rect x="609.75" y="647.17" width="3.1" height="13.95"/><rect x="619.06" y="739.69" width="3.1" height="1.71"/><rect x="623.72" y="509.00" width="3.1" height="123.00"/><rect x="628.38" y="595.28" width="3.1" height="41.86"/><rect x="642.35" y="693.92" width="3.1" height="4.40"/><rect x="651.67" y="748.99" width="3.1" height="9.06"/><rect x="660.99" y="712.77" width="3.1" height="9.30"/><rect x="665.64" y="615.35" width="3.1" height="31.58"/><rect x="674.96" y="709.09" width="3.1" height="3.68"/><rect x="684.28" y="701.51" width="3.1" height="9.30"/><rect x="688.93" y="664.06" width="3.1" height="36.22"/><rect x="693.59" y="681.44" width="3.1" height="9.30"/><rect x="702.91" y="703.95" width="3.1" height="9.55"/><rect x="707.57" y="704.93" width="3.1" height="18.60"/><rect x="716.88" y="628.08" width="3.1" height="29.86"/><rect x="721.54" y="690.74" width="3.1" height="9.54"/><rect x="726.20" y="703.22" width="3.1" height="9.55"/><rect x="730.86" y="704.93" width="3.1" height="2.94"/><rect x="735.51" y="712.77" width="3.1" height="6.11"/><rect x="740.17" y="728.43" width="3.1" height="7.59"/><rect x="744.83" y="711.05" width="3.1" height="27.17"/><rect x="749.49" y="680.70" width="3.1" height="5.88"/><rect x="754.15" y="632.24" width="3.1" height="24.23"/><rect x="758.80" y="678.74" width="3.1" height="3.68"/><rect x="763.46" y="712.77" width="3.1" height="9.30"/><rect x="768.12" y="599.93" width="3.1" height="65.60"/><rect x="772.78" y="715.95" width="3.1" height="13.95"/><rect x="777.44" y="701.75" width="3.1" height="4.65"/><rect x="782.09" y="665.77" width="3.1" height="39.16"/><rect x="786.75" y="679.97" width="3.1" height="6.12"/><rect x="796.07" y="716.68" width="3.1" height="14.93"/><rect x="800.73" y="572.03" width="3.1" height="100.84"/><rect x="805.38" y="667.49" width="3.1" height="9.54"/><rect x="810.04" y="760.98" width="3.1" height="1.72"/><rect x="814.70" y="695.39" width="3.1" height="2.93"/><rect x="824.02" y="709.58" width="3.1" height="1.47"/><rect x="828.67" y="708.12" width="3.1" height="7.83"/><rect x="842.65" y="654.76" width="3.1" height="9.30"/><rect x="851.96" y="670.91" width="3.1" height="15.18"/><rect x="856.62" y="686.09" width="3.1" height="31.08"/><rect x="861.28" y="682.91" width="3.1" height="7.83"/><rect x="865.94" y="740.91" width="3.1" height="7.83"/><rect x="870.60" y="637.38" width="3.1" height="39.16"/><rect x="875.25" y="736.02" width="3.1" height="15.66"/><rect x="879.91" y="679.97" width="3.1" height="4.40"/><rect x="884.57" y="715.95" width="3.1" height="21.78"/><rect x="889.23" y="695.39" width="3.1" height="23.49"/><rect x="898.54" y="671.65" width="3.1" height="6.60"/><rect x="907.86" y="704.93" width="3.1" height="15.42"/><rect x="912.52" y="689.76" width="3.1" height="21.78"/><rect x="917.18" y="695.39" width="3.1" height="7.83"/><rect x="921.83" y="706.89" width="3.1" height="19.83"/><rect x="926.49" y="665.77" width="3.1" height="9.30"/><rect x="931.15" y="689.76" width="3.1" height="24.47"/><rect x="940.47" y="676.05" width="3.1" height="30.35"/><rect x="945.12" y="596.51" width="3.1" height="57.27"/><rect x="954.44" y="646.93" width="3.1" height="43.81"/><rect x="959.10" y="412.90" width="3.1" height="206.37"/><rect x="963.76" y="656.96" width="3.1" height="32.31"/><rect x="982.39" y="734.55" width="3.1" height="7.83"/><rect x="987.05" y="676.05" width="3.1" height="16.40"/><rect x="991.70" y="687.56" width="3.1" height="6.11"/><rect x="996.36" y="689.76" width="3.1" height="16.64"/><rect x="1001.02" y="659.41" width="3.1" height="15.17"/><rect x="1019.65" y="606.05" width="3.1" height="47.00"/><rect x="1024.31" y="682.91" width="3.1" height="35.97"/><rect x="1028.97" y="700.04" width="3.1" height="12.48"/><rect x="1033.63" y="712.77" width="3.1" height="15.66"/><rect x="1038.28" y="683.88" width="3.1" height="5.88"/><rect x="1042.94" y="627.35" width="3.1" height="48.70"/><rect x="1047.60" y="716.44" width="3.1" height="2.20"/><rect x="1052.26" y="703.22" width="3.1" height="13.95"/><rect x="1056.92" y="709.09" width="3.1" height="9.30"/><rect x="1061.57" y="695.39" width="3.1" height="16.15"/><rect x="1066.23" y="691.23" width="3.1" height="31.57"/><rect x="1070.89" y="672.14" width="3.1" height="59.23"/><rect x="1075.55" y="642.03" width="3.1" height="50.91"/><rect x="1084.86" y="703.22" width="3.1" height="15.66"/><rect x="1089.52" y="728.19" width="3.1" height="3.18"/><rect x="1094.18" y="718.39" width="3.1" height="3.68"/><rect x="1098.84" y="714.23" width="3.1" height="15.67"/><rect x="1103.50" y="668.95" width="3.1" height="11.02"/><rect x="1108.15" y="704.20" width="3.1" height="10.03"/><rect x="1112.81" y="644.48" width="3.1" height="22.52"/><rect x="1122.13" y="684.37" width="3.1" height="14.20"/><rect x="1126.79" y="675.07" width="3.1" height="29.86"/><rect x="1131.44" y="676.54" width="3.1" height="6.37"/><rect x="1136.10" y="700.28" width="3.1" height="13.95"/><rect x="1140.76" y="661.12" width="3.1" height="17.13"/><rect x="1150.08" y="733.08" width="3.1" height="1.47"/><rect x="1154.73" y="651.58" width="3.1" height="39.16"/><rect x="1159.39" y="684.37" width="3.1" height="9.30"/><rect x="1164.05" y="682.17" width="3.1" height="43.08"/><rect x="1168.71" y="662.59" width="3.1" height="5.87"/><rect x="1178.02" y="699.06" width="3.1" height="11.26"/><rect x="1182.68" y="690.74" width="3.1" height="34.51"/><rect x="1187.34" y="693.92" width="3.1" height="7.83"/><rect x="1192.00" y="698.57" width="3.1" height="21.78"/><rect x="1196.66" y="695.39" width="3.1" height="3.18"/><rect x="1201.31" y="656.23" width="3.1" height="59.72"/><rect x="1205.97" y="662.59" width="3.1" height="29.86"/><rect x="1210.63" y="741.89" width="3.1" height="13.46"/><rect x="1215.29" y="506.40" width="3.1" height="142.73"/><rect x="1219.95" y="718.88" width="3.1" height="7.84"/><rect x="1224.60" y="717.17" width="3.1" height="3.18"/><rect x="1229.26" y="741.89" width="3.1" height="7.83"/><rect x="1233.92" y="714.23" width="3.1" height="3.68"/><rect x="1243.24" y="668.95" width="3.1" height="6.12"/><rect x="1252.55" y="638.85" width="3.1" height="6.36"/><rect x="1261.87" y="684.37" width="3.1" height="22.03"/><rect x="1271.18" y="665.77" width="3.1" height="10.77"/><rect x="1280.50" y="653.29" width="3.1" height="10.77"/><rect x="1294.47" y="726.72" width="3.1" height="6.36"/><rect x="1299.13" y="709.58" width="3.1" height="12.49"/><rect x="1452.85" y="752.10" width="3.1" height="2.90"/></g>
<g fill="#a8dd93" stroke="#a8dd93" stroke-width="1.1" stroke-opacity="0.2"><rect x="125.32" y="694.16" width="3.1" height="2.70"/><rect x="143.95" y="689.27" width="3.1" height="3.18"/><rect x="209.16" y="683.15" width="3.1" height="2.94"/><rect x="358.22" y="679.97" width="3.1" height="2.94"/><rect x="428.09" y="728.19" width="3.1" height="3.18"/><rect x="577.14" y="685.60" width="3.1" height="0.98"/><rect x="721.54" y="687.56" width="3.1" height="3.18"/><rect x="735.51" y="711.05" width="3.1" height="1.72"/><rect x="805.38" y="665.28" width="3.1" height="2.21"/><rect x="1271.18" y="664.30" width="3.1" height="1.47"/></g>
<g fill="#c1b1d2" stroke="#c1b1d2" stroke-width="1.1" stroke-opacity="0.2"><rect x="148.61" y="759.76" width="3.1" height="1.71"/><rect x="167.24" y="705.18" width="3.1" height="1.22"/><rect x="358.22" y="678.25" width="3.1" height="1.72"/><rect x="810.04" y="759.76" width="3.1" height="1.22"/></g>
<g fill="#d57dbe" stroke="#d57dbe" stroke-width="1.1" stroke-opacity="0.2"><rect x="195.19" y="695.39" width="3.1" height="3.18"/><rect x="306.98" y="764.16" width="3.1" height="1.84"/><rect x="539.88" y="760.25" width="3.1" height="3.42"/><rect x="558.51" y="744.09" width="3.1" height="3.19"/><rect x="726.20" y="701.75" width="3.1" height="1.47"/><rect x="898.54" y="669.93" width="3.1" height="1.72"/><rect x="921.83" y="700.28" width="3.1" height="2.94"/><rect x="991.70" y="686.09" width="3.1" height="1.47"/><rect x="1033.63" y="709.58" width="3.1" height="3.19"/><rect x="1094.18" y="716.68" width="3.1" height="1.71"/><rect x="1131.44" y="675.07" width="3.1" height="1.47"/><rect x="1154.73" y="648.39" width="3.1" height="3.19"/><rect x="1192.00" y="697.10" width="3.1" height="1.47"/><rect x="1201.31" y="651.58" width="3.1" height="4.65"/><rect x="1252.55" y="637.38" width="3.1" height="1.47"/><rect x="1294.47" y="723.78" width="3.1" height="2.94"/></g>
<g fill="#dbdb96" stroke="#dbdb96" stroke-width="1.1" stroke-opacity="0.2"><rect x="209.16" y="681.44" width="3.1" height="1.71"/></g>
<g fill="#a4c9e1" stroke="#a4c9e1" stroke-width="1.1" stroke-opacity="0.2"><rect x="237.11" y="699.06" width="3.1" height="2.94"/><rect x="246.42" y="695.39" width="3.1" height="1.47"/><rect x="255.74" y="686.33" width="3.1" height="1.47"/><rect x="334.93" y="639.09" width="3.1" height="3.19"/><rect x="390.82" y="648.39" width="3.1" height="3.19"/><rect x="502.61" y="728.19" width="3.1" height="3.18"/><rect x="623.72" y="506.40" width="3.1" height="2.60"/><rect x="712.22" y="690.74" width="3.1" height="1.71"/><rect x="921.83" y="698.57" width="3.1" height="1.71"/><rect x="1019.65" y="604.09" width="3.1" height="1.96"/><rect x="1028.97" y="698.08" width="3.1" height="1.96"/><rect x="1075.55" y="640.07" width="3.1" height="1.96"/><rect x="1103.50" y="667.24" width="3.1" height="1.71"/><rect x="1219.95" y="715.95" width="3.1" height="2.93"/><rect x="1252.55" y="635.91" width="3.1" height="1.47"/></g>
<g fill="#f5be82" stroke="#f5be82" stroke-width="1.1" stroke-opacity="0.2"><rect x="302.32" y="610.95" width="3.1" height="1.71"/><rect x="334.93" y="642.28" width="3.1" height="1.46"/><rect x="418.77" y="708.12" width="3.1" height="2.93"/><rect x="437.40" y="731.61" width="3.1" height="2.20"/><rect x="511.93" y="643.99" width="3.1" height="9.30"/><rect x="549.19" y="667.24" width="3.1" height="4.90"/><rect x="586.46" y="737.73" width="3.1" height="1.47"/><rect x="619.06" y="737.73" width="3.1" height="1.96"/><rect x="628.38" y="593.32" width="3.1" height="1.96"/><rect x="647.01" y="684.37" width="3.1" height="1.72"/><rect x="651.67" y="747.28" width="3.1" height="1.71"/><rect x="656.33" y="712.77" width="3.1" height="1.46"/><rect x="674.96" y="707.38" width="3.1" height="1.71"/><rect x="763.46" y="711.05" width="3.1" height="1.72"/><rect x="842.65" y="651.58" width="3.1" height="3.18"/><rect x="921.83" y="703.22" width="3.1" height="3.67"/><rect x="959.10" y="410.20" width="3.1" height="2.70"/><rect x="996.36" y="681.93" width="3.1" height="7.83"/><rect x="1024.31" y="679.97" width="3.1" height="2.94"/><rect x="1126.79" y="667.24" width="3.1" height="7.83"/></g>
<g fill="#c7c7c7" stroke="#c7c7c7" stroke-width="1.1" stroke-opacity="0.2"><rect x="330.27" y="708.12" width="3.1" height="2.93"/></g>
<rect x="1480" y="276.3" width="25.7" height="25.2" rx="5" fill="#dbdb96"/>
<rect x="1480" y="316.3" width="25.7" height="25.2" rx="5" fill="#c7c7c7"/>
<rect x="1480" y="356.3" width="25.7" height="25.2" rx="5" fill="#c1b1d2"/>
<rect x="1480" y="396.3" width="25.7" height="25.2" rx="5" fill="#a8dd93"/>
<rect x="1480" y="436.3" width="25.7" height="25.2" rx="5" fill="#a4c9e1"/>
<rect x="1480" y="476.3" width="25.7" height="25.2" rx="5" fill="#d57dbe"/>
<rect x="1480" y="516.3" width="25.7" height="25.2" rx="5" fill="#f5be82"/>
<rect x="1480" y="556.3" width="25.7" height="25.2" rx="5" fill="#8d69b8"/>
<rect x="1480" y="596.3" width="25.7" height="25.2" rx="5" fill="#58bbcc"/>
<rect x="1480" y="636.3" width="25.7" height="25.2" rx="5" fill="#519e3e"/>
</svg>
<div class="t" id="title" style="top:38.92px;font-size:34px;color:#17191e;letter-spacing:0.747px;font-weight:bold;-webkit-text-stroke-width:0.7px;left:36.20px;">Database load</div>
<div class="t" id="sliced" style="top:38.34px;font-size:27px;color:#17191e;letter-spacing:0.242px;left:325.10px;">Sliced by</div>
<div class="t" id="waits" style="top:40.54px;font-size:27px;color:#17191e;letter-spacing:0.525px;left:472.00px;">Waits</div>
<div class="t" id="bar" style="top:40.84px;font-size:27px;color:#ffffff;letter-spacing:0.234px;font-weight:bold;left:980.30px;">Bar</div>
<div class="t" id="line" style="top:40.84px;font-size:27px;color:#555b63;letter-spacing:-0.105px;font-weight:bold;left:1134.40px;">Line</div>
<div class="t" id="table" style="top:40.84px;font-size:27px;color:#555b63;letter-spacing:1.271px;font-weight:bold;left:1282.00px;">Table</div>
<div class="t" id="vcpu" style="top:32.14px;font-size:27px;color:#17191e;letter-spacing:-0.072px;left:1771.30px;">Show max vCPU</div>
<div class="t" id="scope" style="top:154.34px;font-size:27px;color:#17191e;letter-spacing:0.201px;left:57.80px;">Scope to: sql : SELECT &quot;job_listings&quot;.* FROM &quot;job_listin...</div>
<div class="t" id="x" style="top:154.94px;font-size:27px;color:#000000;letter-spacing:0.000px;-webkit-text-stroke-width:0.7px;left:581.60px;width:400px;text-align:center;">x</div>
<div class="t" id="ctitle" style="top:224.78px;font-size:24px;color:#333333;letter-spacing:0.226px;font-weight:bold;-webkit-text-stroke-width:0.7px;left:77.10px;">Average active sessions (AAS)</div>
<div class="t" id="y0" style="top:276.78px;font-size:21.7px;color:#111111;letter-spacing:0.000px;right:1912.80px;">1</div>
<div class="t" id="y1" style="top:370.78px;font-size:21.7px;color:#111111;letter-spacing:0.000px;right:1912.80px;">0.8</div>
<div class="t" id="y2" style="top:464.78px;font-size:21.7px;color:#111111;letter-spacing:0.000px;right:1912.80px;">0.6</div>
<div class="t" id="y3" style="top:558.78px;font-size:21.7px;color:#111111;letter-spacing:0.000px;right:1912.80px;">0.4</div>
<div class="t" id="y4" style="top:652.78px;font-size:21.7px;color:#111111;letter-spacing:0.000px;right:1912.80px;">0.2</div>
<div class="t" id="y5" style="top:746.78px;font-size:21.7px;color:#111111;letter-spacing:0.000px;right:1912.80px;">0</div>
<div class="t" id="x0" style="top:773.25px;font-size:21.5px;color:#111111;letter-spacing:0.322px;left:6.86px;width:400px;text-align:center;">16:00</div>
<div class="t" id="x1" style="top:773.25px;font-size:21.5px;color:#111111;letter-spacing:0.322px;left:118.86px;width:400px;text-align:center;">18:00</div>
<div class="t" id="x2" style="top:773.25px;font-size:21.5px;color:#111111;letter-spacing:0.322px;left:230.86px;width:400px;text-align:center;">20:00</div>
<div class="t" id="x3" style="top:773.25px;font-size:21.5px;color:#111111;letter-spacing:0.322px;left:341.11px;width:400px;text-align:center;">22:00</div>
<div class="t" id="x4" style="top:773.25px;font-size:21.5px;color:#111111;letter-spacing:0.000px;left:452.80px;width:400px;text-align:center;">May</div>
<div class="t" id="x5" style="top:773.25px;font-size:21.5px;color:#111111;letter-spacing:0.322px;left:564.86px;width:400px;text-align:center;">02:00</div>
<div class="t" id="x6" style="top:773.25px;font-size:21.5px;color:#111111;letter-spacing:0.322px;left:676.86px;width:400px;text-align:center;">04:00</div>
<div class="t" id="x7" style="top:773.25px;font-size:21.5px;color:#111111;letter-spacing:0.322px;left:788.86px;width:400px;text-align:center;">06:00</div>
<div class="t" id="x8" style="top:773.25px;font-size:21.5px;color:#111111;letter-spacing:0.322px;left:900.86px;width:400px;text-align:center;">08:00</div>
<div class="t" id="x9" style="top:773.25px;font-size:21.5px;color:#111111;letter-spacing:0.322px;left:1012.86px;width:400px;text-align:center;">10:00</div>
<div class="t" id="x10" style="top:773.25px;font-size:21.5px;color:#111111;letter-spacing:0.322px;left:1124.86px;width:400px;text-align:center;">12:00</div>
<div class="t" id="x11" style="top:773.25px;font-size:21.5px;color:#111111;letter-spacing:0.322px;left:1236.86px;width:400px;text-align:center;">14:00</div>
<div class="t" id="l0" style="top:271.28px;font-size:24px;color:#3f3f3f;letter-spacing:-0.129px;left:1517.20px;">Client:ClientRead</div>
<div class="t" id="l1" style="top:311.28px;font-size:24px;color:#3f3f3f;letter-spacing:0.007px;left:1517.20px;">LWLock:CheckpointerComm</div>
<div class="t" id="l2" style="top:351.28px;font-size:24px;color:#3f3f3f;letter-spacing:-0.788px;left:1517.20px;">IPC:MessageQueueReceive</div>
<div class="t" id="l3" style="top:391.28px;font-size:24px;color:#3f3f3f;letter-spacing:0.166px;left:1517.20px;">LWLock:BufferMapping</div>
<div class="t" id="l4" style="top:431.28px;font-size:24px;color:#3f3f3f;letter-spacing:-0.014px;left:1517.20px;">IO:DataFilePrefetch</div>
<div class="t" id="l5" style="top:471.28px;font-size:24px;color:#3f3f3f;letter-spacing:-0.120px;left:1517.20px;">IPC:BgWorkerShutdown</div>
<div class="t" id="l6" style="top:511.28px;font-size:24px;color:#3f3f3f;letter-spacing:0.051px;left:1517.20px;">IO:DataFileWrite</div>
<div class="t" id="l7" style="top:551.28px;font-size:24px;color:#3f3f3f;letter-spacing:-0.392px;left:1517.20px;">IPC:BufferIO</div>
<div class="t" id="l8" style="top:591.28px;font-size:24px;color:#3f3f3f;letter-spacing:-0.432px;left:1517.20px;">IO:DataFileRead</div>
<div class="t" id="l9" style="top:631.28px;font-size:24px;color:#3f3f3f;letter-spacing:-0.900px;left:1517.20px;">CPU</div>
</body></html>
